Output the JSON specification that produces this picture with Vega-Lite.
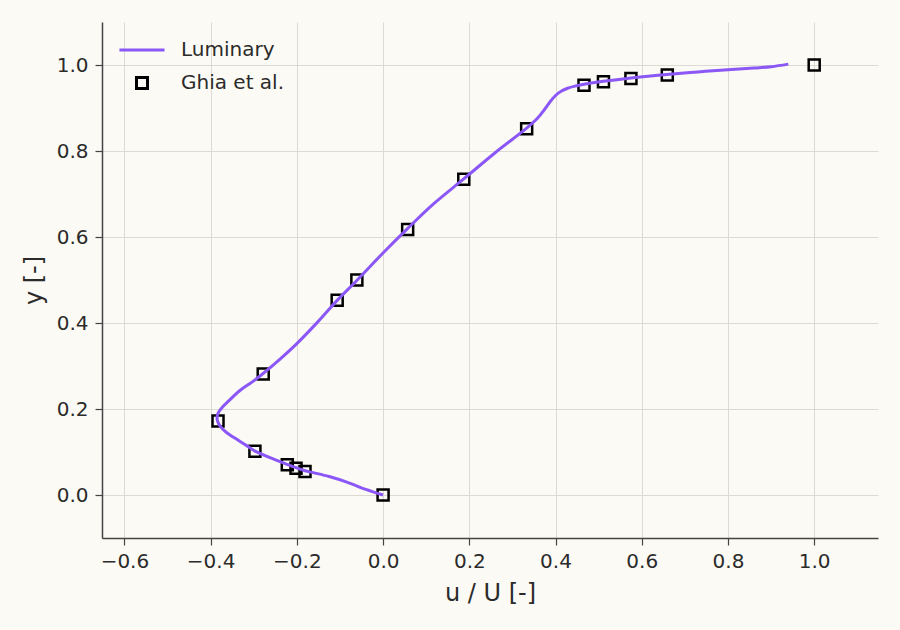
{
  "$schema": "https://vega.github.io/schema/vega-lite/v6.json",
  "width": 776,
  "height": 516,
  "autosize": {"type": "none"},
  "padding": {"left": 102, "top": 22, "right": 22, "bottom": 92},
  "background": "#fbfaf4",
  "config": {
    "view": {"stroke": null},
    "font": "DejaVu Sans",
    "axis": {
      "domainColor": "#444444",
      "domainWidth": 1.5,
      "tickColor": "#444444",
      "tickSize": 7,
      "tickWidth": 1.2,
      "gridColor": "#dcdad2",
      "gridWidth": 1,
      "labelFont": "DejaVu Sans",
      "labelFontSize": 20,
      "labelColor": "#2b2b2b",
      "titleFont": "DejaVu Sans",
      "titleFontSize": 24,
      "titleFontWeight": "normal",
      "titleColor": "#2b2b2b"
    },
    "legend": {
      "labelFont": "DejaVu Sans",
      "labelFontSize": 20,
      "labelColor": "#2b2b2b",
      "symbolFillColor": "transparent"
    }
  },
  "datasets": {
    "luminary": [
      {"u": 0.0, "y": 0.0},
      {"u": -0.04, "y": 0.013},
      {"u": -0.084, "y": 0.03},
      {"u": -0.125, "y": 0.043},
      {"u": -0.162, "y": 0.052},
      {"u": -0.181, "y": 0.0565},
      {"u": -0.202, "y": 0.0635},
      {"u": -0.222, "y": 0.071},
      {"u": -0.245, "y": 0.08},
      {"u": -0.297, "y": 0.102},
      {"u": -0.318, "y": 0.116},
      {"u": -0.345, "y": 0.133},
      {"u": -0.364, "y": 0.146},
      {"u": -0.378, "y": 0.16},
      {"u": -0.384, "y": 0.172},
      {"u": -0.385, "y": 0.182},
      {"u": -0.382, "y": 0.192},
      {"u": -0.372, "y": 0.205},
      {"u": -0.36, "y": 0.217},
      {"u": -0.332, "y": 0.243},
      {"u": -0.305, "y": 0.262},
      {"u": -0.279, "y": 0.282},
      {"u": -0.239, "y": 0.316},
      {"u": -0.2, "y": 0.352},
      {"u": -0.152, "y": 0.402},
      {"u": -0.107, "y": 0.452},
      {"u": -0.061, "y": 0.499},
      {"u": 0.001, "y": 0.564},
      {"u": 0.056, "y": 0.619},
      {"u": 0.117, "y": 0.677},
      {"u": 0.187, "y": 0.735},
      {"u": 0.26, "y": 0.796},
      {"u": 0.333, "y": 0.853},
      {"u": 0.358, "y": 0.876},
      {"u": 0.374, "y": 0.896},
      {"u": 0.387, "y": 0.914},
      {"u": 0.4, "y": 0.929},
      {"u": 0.413, "y": 0.939},
      {"u": 0.428, "y": 0.946},
      {"u": 0.446, "y": 0.951},
      {"u": 0.466, "y": 0.955},
      {"u": 0.511, "y": 0.962},
      {"u": 0.575, "y": 0.97},
      {"u": 0.658, "y": 0.978},
      {"u": 0.73, "y": 0.984},
      {"u": 0.8, "y": 0.989},
      {"u": 0.86, "y": 0.993},
      {"u": 0.9, "y": 0.996},
      {"u": 0.94, "y": 1.002}
    ],
    "ghia": [
      {"u": 1.0, "y": 1.0},
      {"u": 0.65928, "y": 0.9766},
      {"u": 0.57492, "y": 0.9688},
      {"u": 0.51117, "y": 0.9609},
      {"u": 0.46604, "y": 0.9531},
      {"u": 0.33304, "y": 0.8516},
      {"u": 0.18719, "y": 0.7344},
      {"u": 0.05702, "y": 0.6172},
      {"u": -0.0608, "y": 0.5},
      {"u": -0.10648, "y": 0.4531},
      {"u": -0.27805, "y": 0.2813},
      {"u": -0.38289, "y": 0.1719},
      {"u": -0.2973, "y": 0.1016},
      {"u": -0.2222, "y": 0.0703},
      {"u": -0.20196, "y": 0.0625},
      {"u": -0.18109, "y": 0.0547},
      {"u": 0.0, "y": 0.0}
    ]
  },
  "encoding": {
    "x": {
      "field": "u",
      "type": "quantitative",
      "scale": {"domain": [-0.652, 1.148], "nice": false, "zero": false},
      "axis": {
        "title": "u / U [-]",
        "values": [-0.6, -0.4, -0.2, 0, 0.2, 0.4, 0.6, 0.8, 1.0],
        "format": ".1f",
        "labelPadding": 6,
        "titlePadding": 10
      }
    },
    "y": {
      "field": "y",
      "type": "quantitative",
      "scale": {"domain": [-0.1, 1.1], "nice": false, "zero": false},
      "axis": {
        "title": "y [-]",
        "values": [0, 0.2, 0.4, 0.6, 0.8, 1.0],
        "format": ".1f",
        "labelPadding": 7,
        "titlePadding": 10
      }
    },
    "color": {
      "field": "series",
      "type": "nominal",
      "scale": {"domain": ["Luminary", "Ghia et al."], "range": ["#8b57f6", "#000000"]},
      "legend": {
        "title": null,
        "orient": "none",
        "legendX": 30,
        "legendY": 18,
        "symbolSize": 121,
        "symbolStrokeWidth": 3,
        "symbolFillColor": "transparent",
        "labelOffset": 29,
        "rowPadding": 11
      }
    }
  },
  "layer": [
    {
      "data": {"name": "ghia"},
      "transform": [{"calculate": "'Ghia et al.'", "as": "series"}],
      "mark": {"type": "point", "filled": false, "size": 121, "strokeWidth": 2.5, "opacity": 1},
      "encoding": {
        "shape": {
          "field": "series",
          "type": "nominal",
          "scale": {"domain": ["Luminary", "Ghia et al."], "range": ["M-4.1,0H4.1", "M-1,-1H1V1H-1Z"]},
          "legend": {
            "title": null,
            "orient": "none",
            "legendX": 30,
            "legendY": 18,
            "symbolSize": 121,
            "symbolStrokeWidth": 3,
            "symbolFillColor": "transparent",
            "labelOffset": 29,
            "rowPadding": 11
          }
        }
      }
    },
    {
      "data": {"name": "luminary"},
      "transform": [{"calculate": "'Luminary'", "as": "series"}],
      "mark": {"type": "line", "strokeWidth": 3, "clip": true, "interpolate": "catmull-rom"},
      "encoding": {
        "order": {"field": "y", "type": "quantitative"}
      }
    }
  ]
}
